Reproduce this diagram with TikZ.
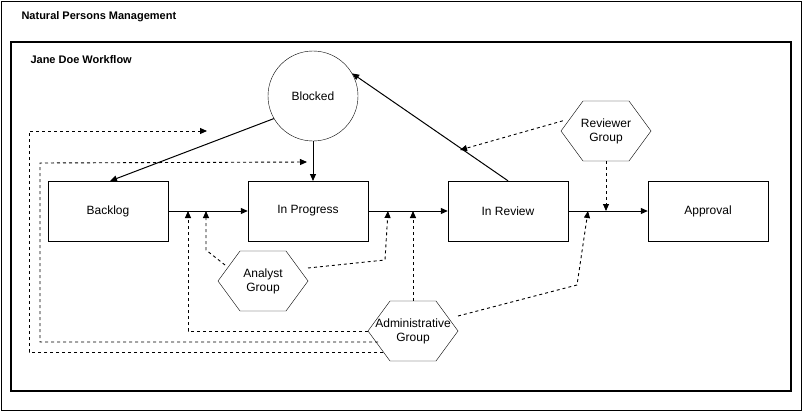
\documentclass[tikz,border=0pt]{standalone}
\usepackage{fontspec}
\setmainfont{Liberation Sans}
\usetikzlibrary{shapes.geometric,arrows.meta,positioning}

\begin{document}
\begin{tikzpicture}[x=1pt,y=-1pt,
	font=\fontsize{12}{14}\selectfont,
	state/.style={draw,minimum width=120pt,minimum height=60pt,inner sep=0pt},
	flow/.style={->,>={Triangle[length=7pt,width=6pt]},line width=1pt},
	perm/.style={->,>={Triangle[length=7pt,width=6pt]},dashed,line width=0.9pt}]
	\useasboundingbox (0,0) rectangle (803,412);

	%frames
	\draw (1,1) rectangle (801,410);
	\node[anchor=west,font=\fontsize{11}{13}\selectfont\bfseries] (title) at (18,17) {Natural Persons Management};
	\draw[line width=1.6pt] (11,42) rectangle (791,391);
	\node[anchor=west,font=\fontsize{11}{13}\selectfont\bfseries] (wf) at (27,60) {Jane Doe Workflow};

	%states
	\node[draw,circle,minimum size=90pt,inner sep=0pt] (blocked) at (313,96) {Blocked};
	\node[state] (backlog) at (108,211) {Backlog};
	\node[state] (progress) at (308,211) {In Progress};
	\node[state] (review) at (508,211) {In Review};
	\node[state] (approval) at (708,211) {Approval};

	%groups
	\foreach \n/\x/\y/\t in {reviewer/606/131/{Reviewer\\Group}, analyst/263/281/{Analyst\\Group}, admin/413/331/{Administrative\\Group}}{
		\draw (\x-45,\y) -- (\x-23,\y-30) -- (\x+23,\y-30) -- (\x+45,\y) -- (\x+23,\y+30) -- (\x-23,\y+30) -- cycle;
		\node[align=center,minimum width=90pt,minimum height=60pt,inner sep=0pt] (\n) at (\x,\y) {\t};
	}

	%free ends
	\coordinate (c1) at (206,211);
	\coordinate (c2) at (188,211);
	\coordinate (c3) at (388,211);
	\coordinate (c4) at (413,211);
	\coordinate (c5) at (588,211);
	\coordinate (c6) at (606,211);
	\coordinate (c7) at (460,150);
	\coordinate (c8) at (307,162);
	\coordinate (c9) at (207,131);
	\coordinate (c10) at (313,181);

	%transitions
	\draw[flow] (backlog) -- (progress);
	\draw[flow] (progress) -- (review);
	\draw[flow] (review) -- (approval);
	\draw[flow] (blocked.south) -- (c10);
	\draw[flow] (blocked.210) -- (110,181);
	\draw[flow] (review.north) -- (blocked.30);

	%permissions
	\draw[perm] (reviewer.north west) ++(2,20) -- (c7);
	\draw[perm] (reviewer.south) -- (c6);
	\draw[perm] (225,265) -- (206,250) -- (c1);
	\draw[perm] (308,268) -- (385,260) -- (c3);
	\draw[perm] (admin.north) -- (c4);
	\draw[perm] (458,316) -- (577,285) -- (c5);
	\draw[perm] (368,331) -- (188,331) -- (c2);
	\draw[perm] (378,342) -- (40,342) -- (40,163) -- (c8);
	\draw[perm] (383,352) -- (29,352) -- (29,131) -- (c9);
\end{tikzpicture}
\end{document}
